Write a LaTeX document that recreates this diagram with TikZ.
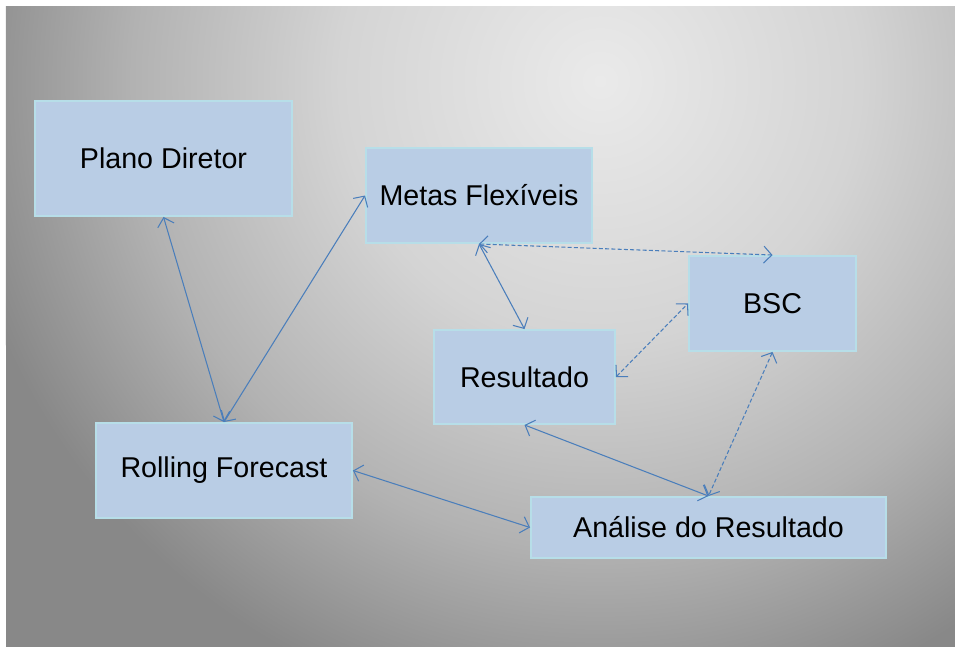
\documentclass[tikz,border=0pt]{standalone}
\usepackage{fontspec}
\setmainfont{Liberation Sans}
\usepackage{tikz}
\usetikzlibrary{arrows.meta, positioning}
\definecolor{boxcolor}{RGB}{185, 205, 229}
\definecolor{boxborder}{RGB}{183, 222, 232}
\definecolor{linkcolor}{RGB}{74, 126, 187}
\definecolor{bgtop}{RGB}{234, 234, 234}
\definecolor{bgmid}{RGB}{212, 212, 212}
\definecolor{bglow}{RGB}{178, 178, 178}
\definecolor{bgedge}{RGB}{136, 136, 136}
\pgfdeclareradialshading{bgshade}{\pgfpointorigin}{color(0bp)=(bgtop); color(10bp)=(bgmid);
    color(18bp)=(bglow); color(25bp)=(bgedge); color(50bp)=(bgedge)}

\begin{document}
\begin{tikzpicture}[
    box/.style={draw=boxborder, fill=boxcolor, line width=1.1pt, inner sep=0pt,
        font=\fontsize{16.3}{19}\selectfont},
    link/.style={{Straight Barb[length=1.6mm,width=3.4mm]}-{Straight Barb[length=1.6mm,width=3.4mm]},
        draw=linkcolor, line width=0.6pt},
    dlink/.style={link, dash pattern=on 0.8mm off 0.45mm}
]
    \useasboundingbox (0, 0) rectangle (19.1, 12.92);

    % Background
    \begin{scope}
        \clip (0.12, -0.3) rectangle (19.4, 12.78);
        \fill[bgedge] (0.12, -0.3) rectangle (19.4, 12.78);
        \shade[shading=bgshade] (12, 11.3) circle (13);
    \end{scope}

    % Boxes
    \node[box, minimum width=5.14cm, minimum height=2.30cm] (plano) at (3.27, 9.75) {Plano Diretor};
    \node[box, minimum width=4.52cm, minimum height=1.90cm] (metas) at (9.58, 9.01) {Metas Flexíveis};
    \node[box, minimum width=3.34cm, minimum height=1.90cm] (bsc) at (15.45, 6.85) {BSC};
    \node[box, minimum width=3.62cm, minimum height=1.88cm] (resultado) at (10.49, 5.38) {Resultado};
    \node[box, minimum width=5.12cm, minimum height=1.90cm] (rolling) at (4.48, 3.51) {Rolling Forecast};
    \node[box, minimum width=7.10cm, minimum height=1.22cm] (analise) at (14.17, 2.37) {Análise do Resultado};

    % Solid connectors
    \draw[link] (plano.south) -- (rolling.north);
    \draw[link] (rolling.north) -- (metas.west);
    \draw[link] (metas.south) -- (resultado.north);
    \draw[link] (resultado.south) -- (analise.north);
    \draw[link] (rolling.east) -- (analise.west);

    % Dashed connectors
    \draw[dlink] (metas.south) -- (bsc.north);
    \draw[dlink] (resultado.east) -- (bsc.west);
    \draw[dlink] (bsc.south) -- (analise.north);
\end{tikzpicture}
\end{document}
